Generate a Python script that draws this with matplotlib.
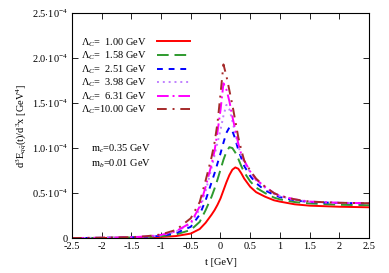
import matplotlib
matplotlib.use("Agg")
import matplotlib.pyplot as plt
import numpy as np

plt.rcParams['font.family'] = ['Liberation Serif', 'DejaVu Serif']
plt.rcParams['mathtext.fontset'] = 'custom'
plt.rcParams['mathtext.rm'] = 'Liberation Serif'
plt.rcParams['mathtext.it'] = 'Liberation Serif:italic'
plt.rcParams['mathtext.bf'] = 'Liberation Serif:bold'

# t values [GeV]
t = [-2.5, -2.0, -1.5, -1.25, -1.0, -0.75, -0.5, -0.35, -0.25, -0.15, -0.1, -0.05,
     0.0, 0.05, 0.1, 0.15, 0.2, 0.25, 0.3, 0.35, 0.4, 0.5, 0.6, 0.75, 0.9, 1.0,
     1.25, 1.5, 2.0, 2.5]

# values in units of 1e-4 GeV^4
lam_100 = [0.000, 0.001, 0.003, 0.006, 0.012, 0.022, 0.05, 0.10, 0.17, 0.26, 0.31, 0.37,
           0.44, 0.53, 0.62, 0.70, 0.76, 0.785, 0.77, 0.72, 0.66, 0.57, 0.51, 0.46, 0.42, 0.405,
           0.375, 0.36, 0.348, 0.342]
lam_158 = [0.0, 0.002, 0.005, 0.01, 0.02, 0.04, 0.09, 0.18, 0.31, 0.46, 0.55, 0.65,
           0.76, 0.87, 0.96, 1.01, 1.0, 0.95, 0.88, 0.8, 0.73, 0.63, 0.56, 0.50, 0.45, 0.43,
           0.40, 0.385, 0.37, 0.365]
lam_251 = [0.0, 0.002, 0.007, 0.013, 0.025, 0.055, 0.125, 0.26, 0.42, 0.62, 0.72, 0.83,
           0.94, 1.06, 1.17, 1.23, 1.19, 1.10, 0.98, 0.89, 0.80, 0.69, 0.61, 0.53, 0.48, 0.455,
           0.42, 0.40, 0.39, 0.385]
lam_398 = [0.0, 0.003, 0.008, 0.016, 0.03, 0.07, 0.16, 0.32, 0.52, 0.78, 0.92, 1.06,
           1.20, 1.36, 1.48, 1.43, 1.30, 1.16, 1.02, 0.92, 0.84, 0.73, 0.64, 0.56, 0.49, 0.465,
           0.425, 0.405, 0.392, 0.387]
lam_631 = [0.0, 0.003, 0.009, 0.018, 0.035, 0.075, 0.17, 0.35, 0.57, 0.82, 0.97, 1.18,
           1.42, 1.72, 1.65, 1.52, 1.35, 1.20, 1.05, 0.93, 0.86, 0.74, 0.65, 0.57, 0.50, 0.47,
           0.43, 0.405, 0.392, 0.387]
lam_1000 = [0.0, 0.004, 0.01, 0.02, 0.04, 0.09, 0.22, 0.40, 0.64, 0.90, 1.06, 1.28,
            1.60, 1.93, 1.80, 1.64, 1.48, 1.30, 1.12, 0.98, 0.86, 0.75, 0.66, 0.57, 0.50, 0.47,
            0.43, 0.405, 0.392, 0.387]

labels = [r'$\Lambda_C$=  1.00 GeV', r'$\Lambda_C$=  1.58 GeV', r'$\Lambda_C$=  2.51 GeV',
          r'$\Lambda_C$=  3.98 GeV', r'$\Lambda_C$=  6.31 GeV', r'$\Lambda_C$=10.00 GeV']
series = [lam_100, lam_158, lam_251, lam_398, lam_631, lam_1000]
colors = ['#ff0000', '#2e9a2e', '#0000ff', '#c080ff', '#ff00ff', '#a52a2a']
styles = ['-', (0, (6, 3)), (0, (3, 3)), (0, (1, 2)), (0, (6, 2, 1, 2)), (0, (5, 3, 1, 3))]

xticks = [-2.5, -2, -1.5, -1, -0.5, 0, 0.5, 1, 1.5, 2, 2.5]
xticklabels = ['-2.5', '-2', '-1.5', '-1', '-0.5', '0', '0.5', '1', '1.5', '2', '2.5']
yticks = [0, 0.5e-4, 1.0e-4, 1.5e-4, 2.0e-4, 2.5e-4]
yticklabels = ['0', r'0.5$\cdot$10$^{-4}$', r'1.0$\cdot$10$^{-4}$', r'1.5$\cdot$10$^{-4}$',
               r'2.0$\cdot$10$^{-4}$', r'2.5$\cdot$10$^{-4}$']

fig = plt.figure(figsize=(3.89, 2.73), dpi=100)
ax = fig.add_axes([0.185, 0.128, 0.7636, 0.824])

tt = np.array(t)
for s, c, ls, lab in zip(series, colors, styles, labels):
    ax.plot(tt, np.array(s) * 1e-4, color=c, linestyle=ls, lw=1.4, label=lab)

ax.set_xlim(-2.5, 2.5)
ax.set_ylim(0, 2.5e-4)
ax.set_xticks(xticks)
ax.set_xticklabels(xticklabels)
ax.set_yticks(yticks)
ax.set_yticklabels(yticklabels)
ax.tick_params(direction='in', top=True, right=True, length=4, width=0.6,
               labelsize=7.5, pad=3)
for sp in ax.spines.values():
    sp.set_linewidth(0.8)

ax.set_xlabel('t [GeV]', fontsize=7.5, labelpad=5)
ax.set_ylabel(r'd$^3$E$_{q\bar{q}}$(t)/d$^3$x [GeV$^4$]', fontsize=7.5, labelpad=2)

ax.text(0.065, 0.385, r'm$_c$=0.35 GeV', transform=ax.transAxes, fontsize=7.5)
ax.text(0.065, 0.32, r'm$_b$=0.01 GeV', transform=ax.transAxes, fontsize=7.5)

leg = ax.legend(loc='upper left', bbox_to_anchor=(0.005, 0.93), frameon=False,
                markerfirst=False, fontsize=7.5, handlelength=3.2, handletextpad=1.0,
                labelspacing=0.1, borderaxespad=0.3)

fig.savefig('out.png', dpi=100)
